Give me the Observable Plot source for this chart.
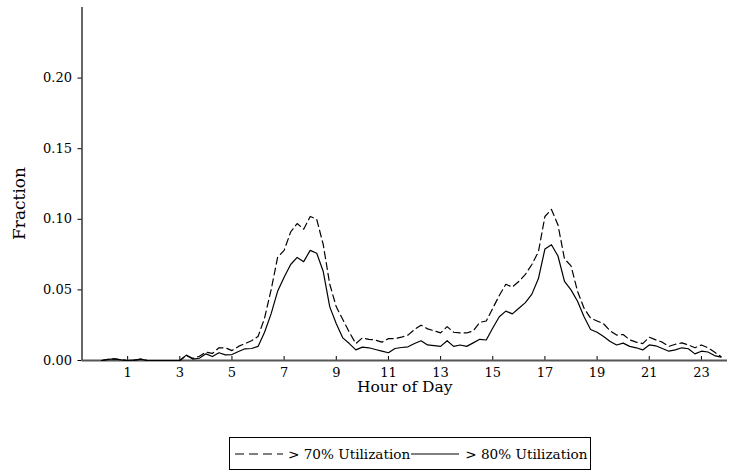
<!DOCTYPE html>
<html>
<head>
<meta charset="utf-8">
<script src="https://cdn.jsdelivr.net/npm/d3@7"></script>
<script src="https://cdn.jsdelivr.net/npm/@observablehq/plot@0.6"></script>
<style>
  html, body { margin: 0; padding: 0; background: #fff; }
  #wrap { position: relative; width: 730px; height: 473px; font-family: "DejaVu Serif", "Liberation Serif", serif; }
  #legend { position: absolute; left: 229px; top: 437px; width: 362px; height: 33px; border: 1px solid #000; box-sizing: border-box; display: flex; align-items: center; font-size: 13.6px; color: #000; white-space: nowrap; }
  #legend svg { display: block; }
</style>
</head>
<body>
<div id="wrap">
  <div id="chart"></div>
  <div id="legend"></div>
</div>
<script>
// Quarter-hour sample times (hours of day)
const hours = d3.range(0, 24, 0.25);

// Fraction of links above 70% utilization (dashed)
const util70 = [
  0, 0.0008, 0.0012, 0.0005,
  0, 0.0002, 0.001, 0,
  0, 0, 0, 0,
  0, 0.0035, 0.0015, 0.003,
  0.006, 0.005, 0.009, 0.009,
  0.007, 0.010, 0.012, 0.014,
  0.017, 0.030, 0.050, 0.073,
  0.078, 0.091, 0.097, 0.093,
  0.102, 0.100, 0.082, 0.054,
  0.038, 0.029, 0.020, 0.012,
  0.016, 0.015, 0.0145, 0.013,
  0.0155, 0.0155, 0.0165, 0.018,
  0.022, 0.025, 0.0224, 0.021,
  0.0196, 0.024, 0.020, 0.0195,
  0.0195, 0.021, 0.027, 0.028,
  0.037, 0.046, 0.054, 0.052,
  0.056, 0.061, 0.068, 0.077,
  0.102, 0.107, 0.096, 0.072,
  0.067, 0.049, 0.037, 0.030,
  0.028, 0.026, 0.021, 0.018,
  0.0184, 0.0146, 0.013, 0.012,
  0.0165, 0.0146, 0.013, 0.010,
  0.0115, 0.0125, 0.011, 0.009,
  0.011, 0.009, 0.006, 0.0028
];

// Fraction of links above 80% utilization (solid)
const util80 = [
  0, 0.0008, 0.0012, 0.0005,
  0, 0.0002, 0.001, 0,
  0, 0, 0, 0,
  0, 0.0038, 0.001, 0.0016,
  0.0047, 0.0028, 0.0055, 0.004,
  0.0042, 0.0064, 0.0083, 0.0085,
  0.010, 0.020, 0.033, 0.049,
  0.059, 0.068, 0.073, 0.070,
  0.078, 0.076, 0.063, 0.038,
  0.026, 0.016, 0.012, 0.0075,
  0.0095, 0.009, 0.0078, 0.0066,
  0.0055, 0.0085, 0.0092, 0.0097,
  0.012, 0.014, 0.011, 0.0105,
  0.010, 0.014, 0.010, 0.011,
  0.010, 0.0125, 0.015, 0.0145,
  0.023, 0.031, 0.035, 0.033,
  0.037, 0.041, 0.047, 0.058,
  0.079, 0.082, 0.074, 0.056,
  0.050, 0.042, 0.031, 0.022,
  0.020, 0.017, 0.0135, 0.011,
  0.0123, 0.010, 0.009, 0.0075,
  0.011, 0.0104, 0.0085, 0.0066,
  0.0075, 0.009, 0.0083, 0.0047,
  0.0066, 0.006, 0.0035, 0.0024
];

const xTicks = [1, 3, 5, 7, 9, 11, 13, 15, 17, 19, 21, 23];
const yTicks = [0, 0.05, 0.10, 0.15, 0.20];
const seriesNames = ["> 70% Utilization", "> 80% Utilization"];
const xLabel = "Hour of Day";
const yLabel = "Fraction";

const rows70 = hours.map((h, i) => ({hour: h, value: util70[i]}));
const rows80 = hours.map((h, i) => ({hour: h, value: util80[i]}));

const xDomain = [-0.75, 24];
const yDomain = [0, 0.25];
const H = 430, mTop = 7, mBottom = H - 360;
const pxPerUnit = (H - mTop - mBottom) / (yDomain[1] - yDomain[0]);
const tickLen = 4 / pxPerUnit;
const serif = "DejaVu Serif, Liberation Serif, serif";

const chart = Plot.plot({
  width: 730,
  height: H,
  marginLeft: 81.5,
  marginRight: 3,
  marginTop: mTop,
  marginBottom: mBottom,
  style: {fontFamily: serif, fontSize: "13px", color: "#000", background: "#fff"},
  x: {domain: xDomain},
  y: {domain: yDomain},
  marks: [
    Plot.axisY({ticks: yTicks, tickFormat: d3.format(".2f"), tickSize: 4, tickPadding: 6, label: null, fontSize: 13, fontFamily: serif, stroke: "#000"}),
    Plot.axisX({ticks: xTicks, tickSize: 0, tickPadding: 7, label: null, fontSize: 13, fontFamily: serif}),
    Plot.ruleX(xTicks, {y1: 0, y2: tickLen, stroke: "#000", strokeWidth: 1}),
    Plot.ruleX([xDomain[0]], {y1: yDomain[0], y2: yDomain[1], stroke: "#000", strokeWidth: 1.2}),
    Plot.ruleY([0], {stroke: "#555", strokeWidth: 2}),
    Plot.line(rows70, {x: "hour", y: "value", stroke: "#000", strokeWidth: 1.2, strokeDasharray: "7,4"}),
    Plot.line(rows80, {x: "hour", y: "value", stroke: "#000", strokeWidth: 1.2}),
    Plot.text([xLabel], {frameAnchor: "bottom", dy: 27, fontSize: 15.5, fontFamily: serif, fill: "#000", lineAnchor: "middle"}),
    Plot.text([yLabel], {frameAnchor: "left", dx: -62, dy: 56, rotate: -90, fontSize: 17, fontFamily: serif, fill: "#000", lineAnchor: "middle"})
  ]
});
document.getElementById("chart").appendChild(chart);

// Legend below the chart
const legend = d3.select("#legend");
function sample(dash, ml) {
  const s = legend.append("svg").attr("width", 48).attr("height", 12).style("margin-left", ml + "px");
  s.append("line").attr("x1", 0).attr("x2", 48).attr("y1", 6).attr("y2", 6)
    .attr("stroke", "#000").attr("stroke-width", 1.2).attr("stroke-dasharray", dash);
}
sample("9,5", 5);
legend.append("span").text(seriesNames[0]).style("margin-left", "5px");
sample(null, 1);
legend.append("span").text(seriesNames[1]).style("margin-left", "6px");
</script>
</body>
</html>
